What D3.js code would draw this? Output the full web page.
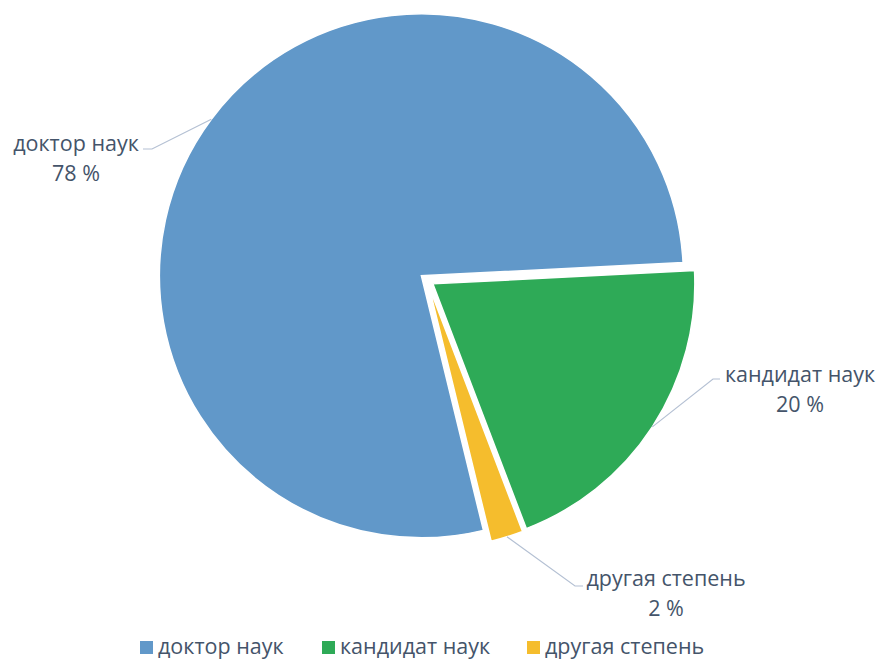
<!DOCTYPE html>
<html>
<head>
<meta charset="utf-8">
<script src="https://cdn.jsdelivr.net/npm/d3@7"></script>
<style>
  html, body { margin: 0; padding: 0; background: #fff; }
  svg { display: block; }
  text { font-family: "Open Sans", "Noto Sans", sans-serif; fill: #44546a; }
</style>
</head>
<body>
<svg id="chart" width="881" height="661"></svg>
<script>
// Degree distribution (percent)
const categories = ["доктор наук", "кандидат наук", "другая степень"];
const values = [78, 20, 2];
const colors = ["#6198c9", "#2eaa57", "#f5bd2d"];

const width = 881, height = 661;
const cx = 427, cy = 280;
const radius = 262;
const explode = 7;
const startDeg = 166.3;
const fontSize = 21.5;

const svg = d3.select("#chart");

const pie = d3.pie()
  .sort(null)
  .value(d => d.value)
  .startAngle(startDeg * Math.PI / 180)
  .endAngle(startDeg * Math.PI / 180 + 2 * Math.PI);

const data = categories.map((c, i) => ({ name: c, value: values[i], color: colors[i] }));
const arcs = pie(data);

const arc = d3.arc().innerRadius(0).outerRadius(radius);

// unit vector along slice bisector (d3 angles: 0 at 12 o'clock, clockwise)
function dir(a) {
  const m = (a.startAngle + a.endAngle) / 2;
  return [Math.sin(m), -Math.cos(m)];
}

const g = svg.append("g").attr("transform", `translate(${cx},${cy})`);

g.selectAll("path.slice")
  .data(arcs)
  .join("path")
  .attr("class", "slice")
  .attr("d", arc)
  .attr("fill", d => d.data.color)
  .attr("stroke", "#fff")
  .attr("stroke-width", 1.5)
  .attr("transform", d => {
    const [ux, uy] = dir(d);
    return `translate(${ux * explode},${uy * explode})`;
  });

// data label positions (elbow point, text anchor, baselines)
const labelLayout = [
  { elbow: [152, 149], end: [143, 149], tx: 76, y1: 151, y2: 181 },
  { elbow: [713, 379], end: [720, 379], tx: 800, y1: 382, y2: 412 },
  { elbow: [575, 586], end: [583, 586], tx: 666, y1: 586, y2: 616 }
];

const fmt = d3.format("d");
arcs.forEach((a, i) => {
  const [ux, uy] = dir(a);
  const sx = cx + ux * (explode + radius);
  const sy = cy + uy * (explode + radius);
  const L = labelLayout[i];
  svg.append("polyline")
    .attr("points", [[sx, sy], L.elbow, L.end].map(p => p.join(",")).join(" "))
    .attr("fill", "none")
    .attr("stroke", "#b4c0d3")
    .attr("stroke-width", 1.2);
  const t = svg.append("text").attr("text-anchor", "middle").attr("font-size", fontSize);
  t.append("tspan").attr("x", L.tx).attr("y", L.y1).text(a.data.name);
  t.append("tspan").attr("x", L.tx).attr("y", L.y2).text(fmt(a.data.value) + " %");
});

// legend
const legendX = [140, 322, 527];
const legend = svg.append("g");
data.forEach((d, i) => {
  legend.append("rect")
    .attr("x", legendX[i]).attr("y", 641)
    .attr("width", 13).attr("height", 13)
    .attr("fill", d.color);
  legend.append("text")
    .attr("x", legendX[i] + 18).attr("y", 654)
    .attr("font-size", fontSize)
    .text(d.name);
});
</script>
</body>
</html>
